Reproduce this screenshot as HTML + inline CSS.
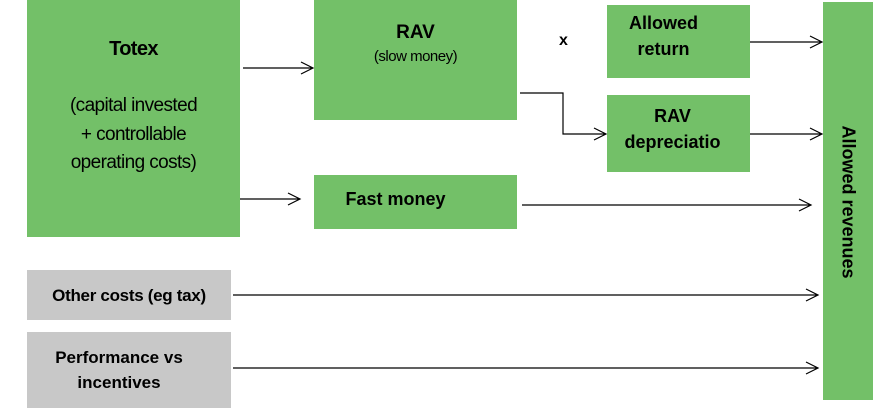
<!DOCTYPE html>
<html><head><style>
body{margin:0;width:873px;height:412px;background:#fff;position:relative;overflow:hidden;font-family:"Liberation Sans",Arial,sans-serif;}
.b{position:absolute;background:#73c068;color:#000;text-align:center;box-sizing:border-box;}
.g{background:#c8c8c8;}
.t{position:absolute;font-weight:bold;font-size:18px;}
svg{position:absolute;left:0;top:0;}
</style></head><body>
<div class="b" style="left:27px;top:0;width:213px;height:237px;font-size:19px;letter-spacing:-0.6px;">
<div style="font-weight:bold;font-size:20px;margin-top:38px;">Totex</div>
<div style="margin-top:31px;line-height:28.5px;">(capital invested<br>+ controllable<br>operating costs)</div></div>
<div class="b" style="left:314px;top:0;width:203px;height:120px;">
<div style="font-weight:bold;font-size:19px;margin-top:22px;">RAV</div>
<div style="font-size:15px;margin-top:4px;letter-spacing:-0.5px;">(slow money)</div></div>
<div class="b" style="left:314px;top:175px;width:203px;height:54px;font-weight:bold;font-size:18px;padding-top:14px;padding-right:40px;">Fast money</div>
<div class="b" style="left:607px;top:5px;width:143px;height:73px;font-weight:bold;font-size:18px;line-height:26px;padding-top:5px;padding-right:30px;">Allowed<br>return</div>
<div class="b" style="left:607px;top:95px;width:143px;height:77px;font-weight:bold;font-size:18px;line-height:26px;padding-top:8px;padding-right:12px;">RAV<br>depreciatio</div>
<div class="b" style="left:823px;top:2px;width:50px;height:398px;"></div>
<div style="position:absolute;left:848px;top:202px;transform:translate(-50%,-50%) rotate(90deg);font-weight:bold;font-size:18px;white-space:nowrap;">Allowed revenues</div>
<div class="b g" style="left:27px;top:270px;width:204px;height:50px;font-weight:bold;font-size:17px;padding-top:16px;letter-spacing:-0.3px;">Other costs (eg tax)</div>
<div class="b g" style="left:27px;top:332px;width:204px;height:76px;font-weight:bold;font-size:17px;line-height:25px;padding-top:13px;padding-right:20px;">Performance vs<br>incentives</div>
<div class="t" style="left:559px;top:32px;font-size:16px;">x</div>
<svg width="873" height="412" fill="none" stroke="#000" stroke-width="1.2">
<path d="M243 68H313M301 62l12 6-12 6"/>
<path d="M240 199H300M288 193l12 6-12 6"/>
<path d="M520 93H563V134H606M594 128l12 6-12 6"/>
<path d="M750 42H822M810 36l12 6-12 6"/>
<path d="M750 134H822M810 128l12 6-12 6"/>
<path d="M522 205H811M799 199l12 6-12 6"/>
<path d="M233 295H818M806 289l12 6-12 6"/>
<path d="M233 368H818M806 362l12 6-12 6"/>
</svg>
</body></html>
